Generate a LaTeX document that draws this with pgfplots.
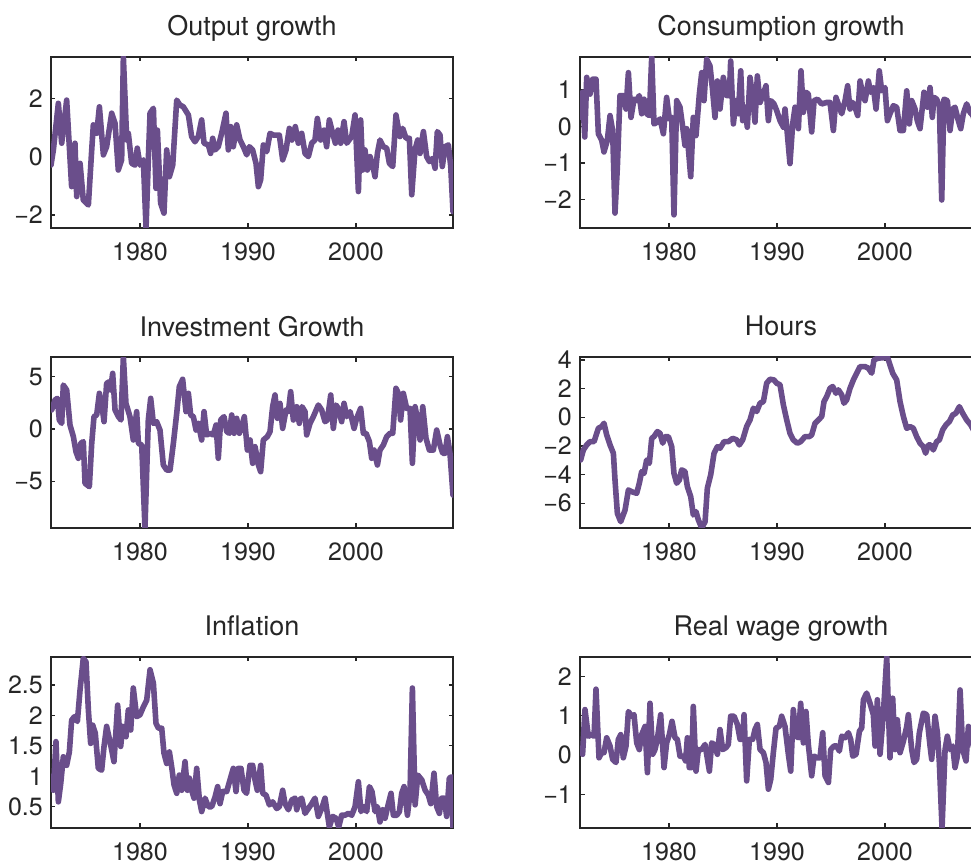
\documentclass[border=0pt]{standalone}
\usepackage{fontspec}
\setmainfont{TeX Gyre Heros}
\usepackage{pgfplots}
\pgfplotsset{compat=1.18}
\definecolor{axgray}{RGB}{38,38,38}
\definecolor{plotpurple}{RGB}{106,78,139}
\newcommand{\lbl}{\fontsize{25}{30}\selectfont}
\newcommand{\ttl}{\fontsize{27}{32}\selectfont}
\pgfplotsset{
  panel/.style={
    scale only axis, width=402pt, height=171pt, anchor=south west,
    xmin=1971.76, xmax=2008.98,
    xtick={1980,1990,2000}, xticklabels={1980,1990,2000},
    tick align=inside, major tick length=4.5pt,
    axis line style={line width=1.3pt, color=axgray},
    every tick/.style={line width=1.3pt, color=axgray},
    /pgf/number format/assume math mode=true,
    every tick label/.append style={font=\lbl, text=axgray, inner sep=0pt},
    xticklabel style={anchor=north, yshift=-15pt},
    yticklabel style={anchor=east, xshift=-8pt},
    every axis title shift=0pt,
    title style={font=\ttl, text=axgray, anchor=base, at={(0.5,1)}, yshift=21pt, inner sep=0pt},
  },
  series/.style={line width=5.6pt, color=plotpurple, line join=round, line cap=round},
}
\begin{document}
\begin{tikzpicture}[x=1pt,y=1pt]
% ---------- Output growth ----------
\begin{axis}[panel, at={(51pt,633pt)}, title={Output growth},
  ymin=-2.45, ymax=3.42, ytick={-2,0,2}, yticklabels={−2,0,2}]
\addplot[series] table {
1971.76 -0.29
1971.98 0.23
1972.44 1.83
1972.75 0.46
1973.21 1.94
1973.67 -1.03
1973.98 0.46
1974.14 -1.37
1974.45 -0.23
1974.75 -1.49
1975.22 -1.66
1975.53 0.23
1975.68 1.09
1975.99 0.80
1976.24 1.71
1976.61 0.06
1976.91 0.34
1977.38 1.49
1977.69 1.14
1977.99 -0.46
1978.30 -0.11
1978.46 3.42
1978.77 0.57
1978.92 0.80
1979.23 -0.23
1979.54 -0.29
1979.75 0.29
1980.00 -0.29
1980.31 -0.11
1980.56 -2.45
1980.77 -0.11
1980.93 1.49
1981.24 1.66
1981.48 -1.09
1981.61 0.91
1981.91 -1.60
1982.22 -1.94
1982.47 0.23
1982.72 -0.69
1983.03 -0.29
1983.40 1.94
1983.70 1.77
1984.01 1.71
1984.48 1.43
1984.78 0.69
1985.09 0.51
1985.40 0.69
1985.71 1.26
1985.93 0.46
1986.33 0.40
1986.54 0.11
1986.73 0.63
1986.95 0.23
1987.25 0.34
1987.56 0.80
1987.96 1.49
1988.18 0.23
1988.40 1.03
1988.64 0.34
1988.95 1.09
1989.26 0.57
1989.57 0.34
1989.88 0.06
1990.12 0.34
1990.43 0.23
1990.74 -0.23
1990.96 -1.03
1991.17 -0.80
1991.42 0.40
1991.73 0.17
1992.04 0.80
1992.35 0.74
1992.90 0.74
1993.21 -0.11
1993.52 0.23
1993.83 0.97
1994.07 0.57
1994.38 1.03
1994.66 0.46
1994.97 0.80
1995.28 0.11
1995.59 0.00
1995.90 0.46
1996.20 0.57
1996.42 1.31
1996.73 0.57
1997.04 0.91
1997.28 0.34
1997.53 1.26
1997.84 0.80
1998.09 0.46
1998.33 0.91
1998.58 0.46
1998.89 1.20
1999.14 0.46
1999.60 0.69
1999.91 1.43
2000.22 -1.20
2000.43 1.26
2000.62 -0.46
2000.83 0.23
2001.05 -0.46
2001.30 0.00
2001.54 -0.29
2001.76 -0.69
2001.98 0.11
2002.22 0.57
2002.53 0.34
2002.84 0.29
2003.09 -0.23
2003.40 -0.34
2003.70 1.43
2003.92 0.97
2004.07 0.69
2004.32 0.97
2004.63 0.63
2004.94 0.63
2005.16 -1.31
2005.46 0.23
2005.71 0.57
2005.93 0.11
2006.24 0.86
2006.54 0.00
2006.79 -0.17
2007.10 -0.06
2007.32 -0.40
2007.53 0.86
2007.78 0.74
2007.99 -0.34
2008.24 0.34
2008.55 0.40
2008.77 -0.34
2008.98 -1.89
};
\end{axis}
% ---------- Consumption growth ----------
\begin{axis}[panel, at={(580pt,633pt)}, title={Consumption growth},
  ymin=-2.79, ymax=1.91, ytick={-2,-1,0,1}, yticklabels={−2,−1,0,1}]
\addplot[series] table {
1971.85 0.25
1971.99 0.94
1972.20 -0.29
1972.38 1.35
1972.69 0.89
1972.93 1.30
1973.24 1.30
1973.46 -0.20
1973.77 -0.38
1973.98 -0.70
1974.29 -0.38
1974.54 0.30
1974.78 -0.11
1975.00 -2.38
1975.22 -1.11
1975.46 0.85
1975.77 0.85
1976.02 0.48
1976.24 1.48
1976.48 0.25
1976.76 0.75
1977.01 0.71
1977.25 0.85
1977.47 0.35
1977.69 0.75
1977.93 0.35
1978.18 0.30
1978.40 1.91
1978.61 0.07
1978.92 0.12
1979.17 0.21
1979.48 -0.20
1979.78 0.80
1980.03 0.21
1980.25 0.25
1980.46 -2.43
1980.71 0.71
1981.02 0.53
1981.27 -0.02
1981.48 -0.52
1981.64 -0.06
1982.01 -1.38
1982.25 0.25
1982.50 -0.25
1982.81 0.89
1983.03 1.48
1983.24 0.71
1983.49 1.85
1983.80 1.66
1984.04 0.98
1984.26 0.25
1984.48 1.25
1984.72 0.48
1985.03 1.35
1985.34 0.85
1985.59 0.85
1985.71 1.80
1985.96 0.07
1986.20 0.71
1986.42 0.35
1986.64 1.53
1986.82 0.16
1987.04 0.53
1987.25 -0.02
1987.50 1.35
1987.75 0.80
1987.96 0.12
1988.18 1.39
1988.43 0.66
1988.67 0.85
1988.98 1.12
1989.20 0.16
1989.42 0.71
1989.72 0.62
1989.97 0.44
1990.28 0.16
1990.59 -0.02
1990.74 0.48
1990.90 -0.02
1991.20 -1.02
1991.45 0.07
1991.67 0.53
1991.98 -0.06
1992.22 1.53
1992.44 0.39
1992.68 0.94
1992.90 0.89
1993.21 -0.15
1993.43 0.71
1993.74 0.75
1994.14 0.62
1994.60 0.66
1994.91 0.66
1995.22 -0.11
1995.46 0.80
1995.77 0.53
1995.99 0.35
1996.30 0.71
1996.54 1.12
1996.76 0.48
1997.01 0.66
1997.22 0.53
1997.47 0.30
1997.69 1.25
1997.93 0.89
1998.15 0.71
1998.46 1.25
1998.67 0.94
1998.92 1.07
1999.17 0.48
1999.47 1.53
1999.69 0.98
2000.00 1.07
2000.22 0.16
2000.46 0.35
2000.77 0.57
2001.08 0.53
2001.39 -0.11
2001.70 -0.11
2002.01 0.98
2002.25 0.07
2002.47 0.71
2002.78 0.48
2002.99 0.16
2003.24 -0.06
2003.61 0.94
2003.92 0.53
2004.17 1.07
2004.38 0.25
2004.54 0.80
2004.78 0.75
2005.03 0.57
2005.25 -2.02
2005.46 0.75
2005.77 0.71
2006.02 -0.11
2006.27 0.48
2006.48 0.53
2006.79 0.16
2007.01 -0.06
2007.25 0.35
2007.56 0.62
2007.87 0.39
2008.14 0.30
2008.40 0.05
2008.65 -0.90
2008.98 -2.79
};
\end{axis}
% ---------- Investment Growth ----------
\begin{axis}[panel, at={(51pt,333pt)}, title={Investment Growth},
  ymin=-9.46, ymax=6.88, ytick={-5,0,5}, yticklabels={−5,0,5}]
\addplot[series] table {
1971.82 1.82
1972.13 2.77
1972.35 2.93
1972.53 0.86
1972.75 0.54
1972.90 4.20
1973.21 3.73
1973.52 0.38
1973.83 -0.73
1974.07 -2.17
1974.29 -2.80
1974.51 -1.37
1974.75 -1.21
1974.91 -5.19
1975.31 -5.51
1975.53 -1.37
1975.74 1.18
1975.99 1.34
1976.24 3.41
1976.45 2.45
1976.67 0.70
1976.91 4.36
1977.16 4.52
1977.28 3.73
1977.47 5.32
1977.69 1.82
1978.00 1.18
1978.24 0.86
1978.46 6.88
1978.70 2.45
1979.07 1.18
1979.38 -1.05
1979.69 1.66
1979.85 -1.37
1980.16 -1.53
1980.46 -9.46
1980.77 0.86
1980.99 2.93
1981.24 0.54
1981.54 0.70
1981.85 -0.10
1982.16 -3.44
1982.47 -3.92
1982.78 -3.92
1983.09 -1.37
1983.40 1.50
1983.64 4.04
1983.95 4.75
1984.26 1.66
1984.48 3.41
1984.69 1.34
1984.94 1.18
1985.19 -0.10
1985.40 0.54
1985.71 -1.05
1985.93 1.66
1986.17 -0.57
1986.48 -0.41
1986.79 -0.57
1987.04 0.38
1987.25 -2.80
1987.47 0.86
1987.78 1.18
1988.03 -0.25
1988.27 -0.41
1988.49 1.34
1988.71 -0.41
1988.95 1.02
1989.20 -0.41
1989.41 0.22
1989.66 1.18
1989.94 -2.01
1990.19 -1.05
1990.43 -3.28
1990.65 -1.69
1990.96 -3.44
1991.17 -4.08
1991.42 -1.05
1991.79 -0.73
1992.04 -0.25
1992.28 2.13
1992.50 3.25
1992.72 1.02
1992.96 2.45
1993.21 0.06
1993.52 1.82
1993.74 1.66
1993.95 3.57
1994.20 0.86
1994.51 2.13
1994.75 0.54
1995.00 2.13
1995.28 1.66
1995.43 -0.57
1995.74 0.54
1996.05 1.18
1996.51 2.29
1996.82 1.82
1997.13 0.70
1997.35 0.86
1997.66 3.25
1997.90 0.06
1998.15 2.29
1998.36 1.97
1998.67 0.70
1998.89 2.45
1999.14 1.18
1999.45 1.66
1999.82 0.06
2000.06 1.02
2000.43 1.97
2000.68 -0.41
2000.93 -0.41
2001.24 -1.21
2001.45 -2.80
2001.67 -2.01
2001.98 -3.44
2002.22 -2.01
2002.53 -1.53
2002.84 -0.73
2003.15 -0.41
2003.40 -0.41
2003.70 3.89
2003.92 3.41
2004.13 0.86
2004.38 3.41
2004.69 1.97
2005.00 1.97
2005.22 -3.28
2005.47 2.13
2005.68 1.02
2005.93 -1.05
2006.18 2.13
2006.48 -0.89
2006.79 -2.01
2007.16 -2.01
2007.47 -0.10
2007.78 -1.53
2008.03 -2.32
2008.24 -2.32
2008.46 -0.73
2008.70 -2.32
2008.98 -6.31
};
\end{axis}
% ---------- Hours ----------
\begin{axis}[panel, at={(580pt,333pt)}, title={Hours},
  ymin=-7.72, ymax=4.2, ytick={-6,-4,-2,0,2,4}, yticklabels={−6,−4,−2,0,2,4}]
\addplot[series] table {
1971.82 -2.98
1972.07 -2.28
1972.38 -1.93
1972.69 -1.70
1973.06 -1.70
1973.46 -0.77
1973.77 -0.65
1973.98 -0.42
1974.23 -1.23
1974.54 -1.93
1974.85 -2.51
1975.00 -4.37
1975.22 -6.70
1975.53 -7.28
1975.93 -6.47
1976.24 -5.07
1976.54 -5.19
1977.01 -5.30
1977.25 -4.60
1977.47 -3.79
1977.69 -3.91
1977.93 -2.98
1978.18 -3.21
1978.40 -1.47
1978.61 -1.35
1978.92 -1.00
1979.17 -1.12
1979.42 -1.81
1979.63 -1.35
1979.94 -1.35
1980.25 -2.05
1980.46 -3.91
1980.71 -4.60
1980.96 -4.37
1981.17 -3.67
1981.48 -3.79
1981.70 -4.84
1982.01 -5.53
1982.25 -6.81
1982.50 -6.58
1982.72 -7.16
1983.03 -7.72
1983.34 -7.28
1983.55 -4.95
1983.86 -4.02
1984.17 -2.51
1984.48 -2.05
1984.72 -2.16
1985.10 -1.70
1985.50 -1.70
1985.90 -1.47
1986.27 -1.58
1986.51 -1.93
1986.82 -1.58
1987.19 -0.65
1987.50 -0.19
1987.81 0.63
1988.12 0.40
1988.43 0.98
1988.74 1.09
1989.04 2.37
1989.35 2.65
1989.72 2.60
1989.97 2.37
1990.28 2.26
1990.59 0.86
1990.90 -0.19
1991.20 -1.12
1991.51 -1.58
1991.88 -1.81
1992.19 -1.70
1992.59 -1.35
1992.99 -1.35
1993.21 -1.23
1993.52 -0.42
1993.83 -0.19
1994.14 0.05
1994.35 1.09
1994.60 1.44
1994.91 2.02
1995.16 2.14
1995.46 1.67
1995.68 1.91
1995.99 1.56
1996.20 0.98
1996.45 1.21
1996.76 2.02
1997.07 2.60
1997.38 3.07
1997.69 3.53
1998.15 3.53
1998.46 3.42
1998.77 3.07
1998.98 4.00
1999.38 4.12
1999.85 4.15
2000.22 4.20
2000.46 3.65
2000.71 3.07
2001.08 2.60
2001.39 1.09
2001.70 0.05
2002.01 -0.77
2002.32 -0.65
2002.62 -0.77
2002.93 -1.35
2003.24 -1.81
2003.55 -2.05
2003.76 -2.51
2004.01 -1.93
2004.23 -1.93
2004.47 -2.28
2004.78 -1.70
2005.03 -1.58
2005.34 -0.88
2005.65 -0.53
2005.96 -0.30
2006.27 0.16
2006.57 0.28
2006.88 0.74
2007.19 0.28
2007.56 -0.19
2007.93 -0.53
2008.20 -0.90
2008.50 -1.60
2008.75 -2.80
2008.98 -4.50
};
\end{axis}
% ---------- Inflation ----------
\begin{axis}[panel, at={(51pt,33pt)}, title={Inflation},
  ymin=0.15, ymax=2.96, ytick={0.5,1,1.5,2,2.5}, yticklabels={0.5,1,1.5,2,2.5}]
\addplot[series] table {
1971.82 0.99
1971.98 0.77
1972.22 1.57
1972.44 0.58
1972.66 0.88
1972.90 1.32
1973.21 1.18
1973.46 1.40
1973.67 1.92
1973.92 1.98
1974.20 1.90
1974.45 2.42
1974.75 2.94
1975.00 2.88
1975.22 2.09
1975.43 1.54
1975.62 1.84
1975.86 1.71
1976.14 1.13
1976.45 1.10
1976.67 1.49
1976.91 1.82
1977.16 1.62
1977.38 1.43
1977.59 1.24
1977.93 2.17
1978.21 1.49
1978.40 1.82
1978.70 1.65
1978.92 2.09
1979.14 1.76
1979.38 2.45
1979.69 1.98
1980.00 2.01
1980.31 2.14
1980.62 2.25
1980.93 2.75
1981.24 2.53
1981.48 1.87
1981.70 1.79
1982.01 1.79
1982.22 1.38
1982.47 1.21
1982.72 1.40
1982.93 1.16
1983.15 0.86
1983.40 0.72
1983.64 1.02
1983.86 0.77
1984.17 1.24
1984.39 0.77
1984.57 0.97
1984.79 0.77
1985.00 0.64
1985.25 1.13
1985.50 0.61
1985.71 0.42
1986.02 0.64
1986.33 0.50
1986.64 0.50
1986.95 0.66
1987.19 0.83
1987.41 0.55
1987.66 0.75
1988.03 0.75
1988.33 0.94
1988.64 1.13
1988.89 0.75
1989.10 1.13
1989.35 1.13
1989.63 0.77
1989.87 0.72
1990.18 1.18
1990.43 1.18
1990.65 0.94
1990.86 0.77
1991.17 1.18
1991.36 0.72
1991.67 0.69
1991.98 0.53
1992.28 0.58
1992.66 0.47
1992.90 0.50
1993.21 0.77
1993.43 0.55
1993.74 0.45
1994.05 0.61
1994.36 0.64
1994.51 0.45
1994.76 0.61
1994.97 0.64
1995.28 0.39
1995.59 0.47
1995.90 0.55
1996.20 0.64
1996.51 0.34
1996.82 0.47
1997.13 0.64
1997.53 0.17
1997.84 0.34
1998.15 0.31
1998.40 0.17
1998.67 0.36
1998.98 0.36
1999.29 0.39
1999.60 0.36
1999.91 0.50
2000.22 0.91
2000.46 0.42
2000.74 0.50
2000.99 0.42
2001.24 0.83
2001.48 0.75
2001.76 0.42
2001.98 0.50
2002.22 0.25
2002.47 0.45
2002.69 0.31
2003.00 0.55
2003.24 0.72
2003.46 0.36
2003.77 0.36
2004.02 0.42
2004.23 0.72
2004.45 0.83
2004.76 0.36
2005.00 0.72
2005.22 2.45
2005.47 0.53
2005.72 1.02
2006.09 0.94
2006.40 0.77
2006.70 0.69
2006.92 0.55
2007.22 1.05
2007.47 0.50
2007.72 0.39
2007.93 0.64
2008.18 0.64
2008.39 0.34
2008.64 0.97
2008.85 0.99
2008.98 0.14
};
\end{axis}
% ---------- Real wage growth ----------
\begin{axis}[panel, at={(580pt,33pt)}, title={Real wage growth},
  ymin=-1.86, ymax=2.5, ytick={-1,0,1,2}, yticklabels={−1,0,1,2}]
\addplot[series] table {
1971.85 0.14
1972.00 0.02
1972.22 1.16
1972.53 0.48
1972.84 0.52
1973.06 0.48
1973.24 1.68
1973.52 -0.07
1973.77 0.06
1973.98 0.06
1974.23 0.44
1974.54 0.23
1974.78 -0.11
1975.09 -0.19
1975.31 0.40
1975.53 0.52
1975.77 -0.07
1976.02 0.23
1976.24 1.11
1976.54 0.99
1976.76 1.03
1977.01 0.31
1977.25 0.14
1977.47 0.52
1977.78 0.73
1978.00 -0.45
1978.24 1.32
1978.49 0.02
1978.70 0.14
1978.92 0.40
1979.23 1.03
1979.54 -0.32
1979.78 0.31
1980.03 0.52
1980.28 0.86
1980.56 0.44
1980.77 0.40
1981.02 -0.03
1981.33 -0.03
1981.54 -0.15
1981.70 0.44
1981.88 -0.32
1982.10 -0.32
1982.25 1.24
1982.50 -0.41
1982.72 0.14
1983.03 0.14
1983.34 0.27
1983.74 -0.41
1983.95 0.31
1984.17 0.27
1984.48 0.02
1984.72 0.65
1984.97 0.14
1985.28 0.19
1985.49 0.27
1985.71 0.99
1986.02 0.99
1986.33 0.78
1986.58 0.40
1986.82 0.40
1986.95 1.03
1987.19 -0.66
1987.44 0.40
1987.75 0.40
1987.96 0.65
1988.18 0.78
1988.43 0.14
1988.74 0.06
1988.98 -0.19
1989.20 -0.87
1989.42 -0.62
1989.66 0.06
1989.91 0.69
1990.22 0.73
1990.43 0.99
1990.74 0.73
1991.05 0.02
1991.27 -0.41
1991.51 1.16
1991.76 0.48
1991.98 0.44
1992.19 1.32
1992.44 0.31
1992.68 1.11
1992.90 0.27
1993.21 -0.53
1993.43 -0.03
1993.74 -0.07
1993.98 -0.07
1994.23 0.57
1994.45 -0.53
1994.76 -0.70
1994.97 0.14
1995.28 0.23
1995.53 0.23
1995.77 0.10
1995.99 0.48
1996.30 0.44
1996.61 0.57
1996.82 0.40
1997.01 -0.03
1997.32 0.02
1997.63 0.61
1997.84 0.69
1998.00 1.41
1998.30 1.58
1998.61 1.32
1998.92 1.03
1999.08 0.23
1999.29 1.41
1999.54 0.02
1999.85 1.07
2000.16 2.50
2000.46 -0.07
2000.71 1.45
2000.93 0.14
2001.14 0.90
2001.39 0.06
2001.70 0.35
2002.01 0.73
2002.16 1.03
2002.47 0.14
2002.69 -0.19
2002.93 -0.11
2003.18 0.57
2003.55 1.07
2003.86 1.03
2004.17 0.23
2004.32 -0.11
2004.63 0.99
2004.85 0.57
2005.03 -0.19
2005.28 -1.86
2005.56 0.14
2005.77 0.48
2006.02 0.14
2006.27 0.23
2006.48 -0.32
2006.70 -0.03
2006.95 1.66
2007.19 0.14
2007.50 -0.15
2007.72 0.73
2007.96 0.48
2008.20 0.20
2008.50 0.60
2008.75 -0.40
2008.98 0.90
};
\end{axis}
\pgfresetboundingbox
\useasboundingbox (0pt,0pt) rectangle (971pt,861pt);
\end{tikzpicture}
\end{document}
